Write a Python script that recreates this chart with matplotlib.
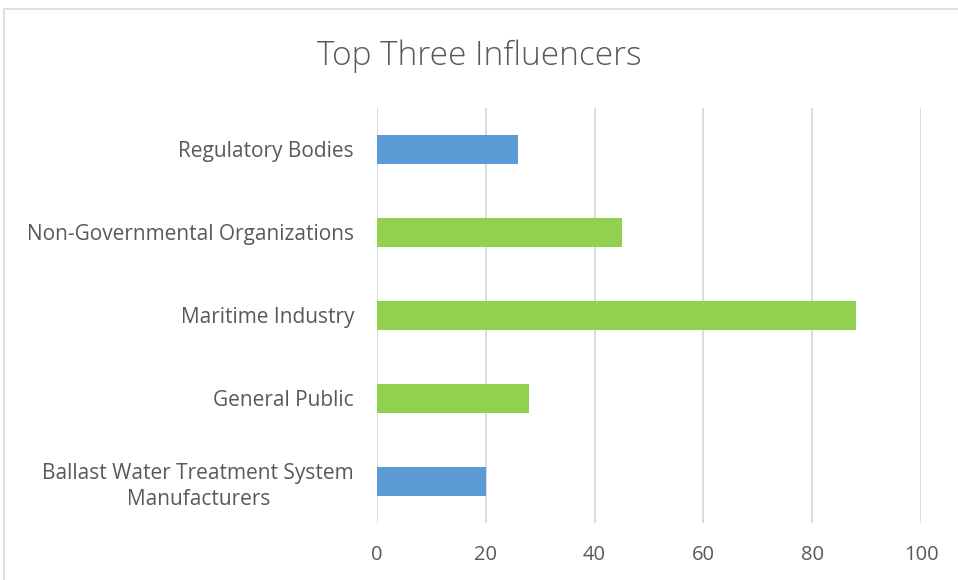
import matplotlib
matplotlib.use("Agg")
import matplotlib.pyplot as plt
from matplotlib.patches import Rectangle

categories = [
    "Ballast Water Treatment System\nManufacturers",
    "General Public",
    "Maritime Industry",
    "Non-Governmental Organizations",
    "Regulatory Bodies",
]
values = [20, 28, 88, 45, 26]
bar_colors = ["#5B9BD5", "#92D050", "#92D050", "#92D050", "#5B9BD5"]
x_ticks = [0, 20, 40, 60, 80, 100]

TEXT = "#595959"
FONT = "Open Sans"

fig = plt.figure(figsize=(9.58, 5.8), dpi=100)
ax = fig.add_axes([0.3935, 0.0983, 0.5679, 0.7155])

ax.barh(range(len(categories)), values, height=0.36, color=bar_colors, zorder=3)

ax.set_xlim(0, 100)
ax.set_ylim(-0.5, len(categories) - 0.5)
ax.set_xticks(x_ticks)
ax.set_yticks(range(len(categories)))
ax.set_yticklabels(categories, multialignment="center", linespacing=1.3)
ax.grid(axis="x", color="#D9D9D9", linewidth=1.3, zorder=0)

for side in ["top", "right", "bottom", "left"]:
    ax.spines[side].set_visible(False)
ax.tick_params(length=0, colors=TEXT)
ax.tick_params(axis="x", pad=16, labelsize=14.5)
ax.tick_params(axis="y", pad=16.5, labelsize=15)
for lbl in ax.get_xticklabels() + ax.get_yticklabels():
    lbl.set_family(FONT)

fig.text(0.5, 0.903, "Top Three Influencers", ha="center", va="center",
         fontsize=24, color=TEXT, family=FONT, fontweight="light")

# chart frame
fig.patches.append(Rectangle((4 / 958, -0.05), 1.1, 1 - 9 / 580 + 0.05,
                             transform=fig.transFigure, fill=False,
                             edgecolor="#D9D9D9", linewidth=1.2))

fig.savefig("out.png", dpi=100)
